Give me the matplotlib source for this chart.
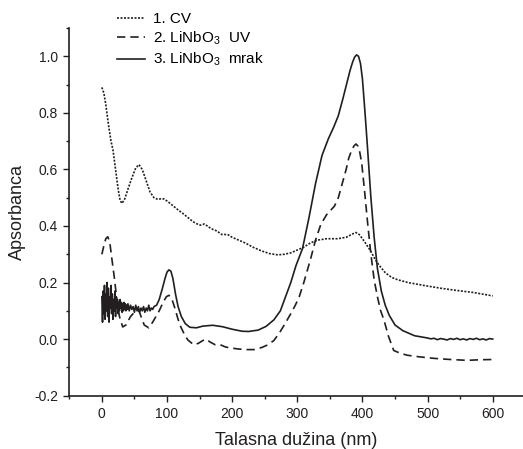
import matplotlib
matplotlib.use("Agg")
import matplotlib.pyplot as plt
import numpy as np
from matplotlib.ticker import MultipleLocator

plt.rcParams.update({"font.family": ["Liberation Sans", "DejaVu Sans"],
                     "mathtext.default": "regular", "font.size": 10,
                     "xtick.direction": "out", "ytick.direction": "out"})

# 1. CV (tačkasta)
cv_x = [0, 3, 6, 10, 14, 17, 21, 25, 28, 31, 35, 40, 46, 52, 57, 62, 68, 74, 80, 86,
        92, 96, 102, 110, 118, 124, 132, 140, 148, 152, 157, 162, 168, 174, 178, 184,
        193, 200, 210, 220, 232, 245, 258, 270, 280, 290, 300, 310, 320, 331, 345, 362,
        375, 385, 390, 395, 400, 406, 413, 420, 425, 435, 445, 454, 470, 494, 520, 545,
        570, 600]
cv_y = [0.89, 0.87, 0.83, 0.76, 0.70, 0.67, 0.60, 0.53, 0.49, 0.48, 0.495, 0.53, 0.57,
        0.605, 0.617, 0.60, 0.56, 0.52, 0.50, 0.494, 0.497, 0.495, 0.485, 0.47, 0.455,
        0.445, 0.43, 0.415, 0.405, 0.403, 0.407, 0.40, 0.39, 0.385, 0.38, 0.37, 0.37,
        0.36, 0.35, 0.34, 0.325, 0.312, 0.302, 0.298, 0.30, 0.305, 0.315, 0.325, 0.34,
        0.35, 0.355, 0.355, 0.36, 0.372, 0.377, 0.37, 0.355, 0.335, 0.31, 0.28, 0.263,
        0.235, 0.218, 0.21, 0.20, 0.19, 0.18, 0.172, 0.165, 0.153]

# 2. LiNbO3 UV (isprekidana)
uv_x = [0, 3, 6, 9, 12, 15, 19, 23, 27, 32, 37, 44, 50, 57, 61, 65, 72, 78, 83, 88, 94,
        99, 103, 107, 112, 117, 121, 126, 132, 141, 148, 155, 160, 166, 174, 182, 190,
        200, 210, 222, 234, 245, 255, 264, 272, 280, 290, 297, 303, 310, 320, 328, 336,
        345, 357, 363, 369, 375, 379, 383, 387, 390, 393, 396, 399, 403, 408, 413, 418,
        423, 428, 433, 440, 448, 458, 469, 485, 510, 535, 561, 580, 600]
uv_y = [0.30, 0.33, 0.355, 0.362, 0.345, 0.29, 0.22, 0.14, 0.08, 0.043, 0.05, 0.08,
        0.095, 0.10, 0.075, 0.05, 0.04, 0.06, 0.08, 0.10, 0.13, 0.15, 0.155, 0.145, 0.11,
        0.07, 0.044, 0.02, -0.003, -0.02, -0.015, -0.005, 0.0, -0.01, -0.02, -0.02,
        -0.028, -0.032, -0.035, -0.037, -0.037, -0.03, -0.02, -0.005, 0.02, 0.05, 0.09,
        0.12, 0.15, 0.20, 0.28, 0.35, 0.405, 0.44, 0.47, 0.50, 0.55, 0.60, 0.64, 0.665,
        0.683, 0.69, 0.683, 0.66, 0.62, 0.53, 0.41, 0.30, 0.21, 0.15, 0.10, 0.068, 0.01,
        -0.04, -0.05, -0.057, -0.062, -0.068, -0.072, -0.075, -0.073, -0.072]

# 3. LiNbO3 mrak (puna) - šumni početak pa glatki deo
mrak_x = list(range(0, 41)) + list(range(42, 81, 2)) + [
    84, 88, 93, 97, 100, 103, 106, 109, 113, 117, 122, 128, 135, 145, 155, 170, 185, 200,
    215, 225, 240, 252, 264, 274, 282, 290, 298, 308, 318, 328, 338, 348, 356, 363, 370,
    376, 381, 385, 388, 391, 394, 397, 400, 404, 408, 413, 418, 423, 429, 435, 441, 450,
    462, 480, 500, 505, 510, 515, 520, 525, 530, 535, 540, 545, 550, 555, 560, 565, 570,
    575, 580, 585, 590, 595, 600]
mrak_y = [0.15, 0.06, 0.17, 0.09, 0.19, 0.07, 0.16, 0.10, 0.20, 0.08, 0.18, 0.06, 0.15,
          0.11, 0.19, 0.09, 0.16, 0.07, 0.14, 0.10, 0.17, 0.08, 0.15, 0.11, 0.14, 0.09,
          0.13, 0.10, 0.14, 0.11, 0.13, 0.095, 0.125, 0.10, 0.13, 0.105, 0.125, 0.10,
          0.12, 0.105, 0.125,
          0.10, 0.12, 0.105, 0.115, 0.095, 0.12, 0.10, 0.115, 0.095, 0.11, 0.10, 0.115,
          0.095, 0.11, 0.10, 0.12, 0.10, 0.11, 0.105, 0.115,
          0.12, 0.14, 0.18, 0.215, 0.237, 0.245, 0.24, 0.215, 0.16, 0.115, 0.08, 0.055,
          0.042, 0.040, 0.046, 0.049, 0.044, 0.035, 0.028, 0.027, 0.032, 0.045, 0.068,
          0.10, 0.15, 0.20, 0.26, 0.32, 0.43, 0.55, 0.65, 0.71, 0.75, 0.79, 0.85, 0.905,
          0.95, 0.98, 0.997, 1.005, 1.0, 0.975, 0.92, 0.80, 0.67, 0.50, 0.36, 0.25, 0.17,
          0.12, 0.085, 0.05, 0.03, 0.012, 0.004, 0.001, 0.003, -0.002, 0.002, 0.0, -0.003,
          0.002, -0.001, 0.003, -0.002, 0.001, -0.003, 0.002, -0.001, 0.003, -0.002,
          0.001, -0.003, 0.002, 0.0]

fig = plt.figure(figsize=(5.23, 4.49), dpi=100)
ax = fig.add_axes([69.3 / 523, 53.3 / 449, (523 - 69.3) / 523, (395.7 - 28) / 449])

ax.plot(cv_x, cv_y, color="#231f20", lw=1.2, ls=(0, (1.2, 0.9)), label="1. CV")
ax.plot(uv_x, uv_y, color="#231f20", lw=1.2, ls=(0, (5, 3)), label="2. LiNbO$_3$  UV")
ax.plot(mrak_x, mrak_y, color="#231f20", lw=1.2, label="3. LiNbO$_3$  mrak")

ax.set_xlim(-50, 646.5)
ax.set_ylim(-0.2, 1.1)
ax.xaxis.set_minor_locator(MultipleLocator(50))
ax.yaxis.set_major_locator(MultipleLocator(0.2))
ax.yaxis.set_minor_locator(MultipleLocator(0.1))
ax.set_xticks(np.arange(0, 601, 100))
ax.yaxis.set_major_formatter(matplotlib.ticker.FormatStrFormatter("%.1f"))
ax.tick_params(which="major", length=4.5, width=1, colors="#231f20", labelsize=10)
ax.tick_params(which="minor", length=2.5, width=1, colors="#231f20")
for s in ("top", "right"):
    ax.spines[s].set_visible(False)
for s in ("left", "bottom"):
    ax.spines[s].set_linewidth(1.2)
    ax.spines[s].set_color("#231f20")

ax.set_xlabel("Talasna dužina (nm)", fontsize=13, color="#231f20", labelpad=8)
ax.set_ylabel("Apsorbanca", fontsize=13, color="#231f20", labelpad=6)

ax.legend(loc="upper left", bbox_to_anchor=(117 / 523, 1 - 12 / 449),
          bbox_transform=fig.transFigure, frameon=False, borderpad=0,
          borderaxespad=0, handlelength=1.8, handletextpad=0.55, labelspacing=0.25,
          fontsize=11)

fig.savefig("out.png", dpi=100)
